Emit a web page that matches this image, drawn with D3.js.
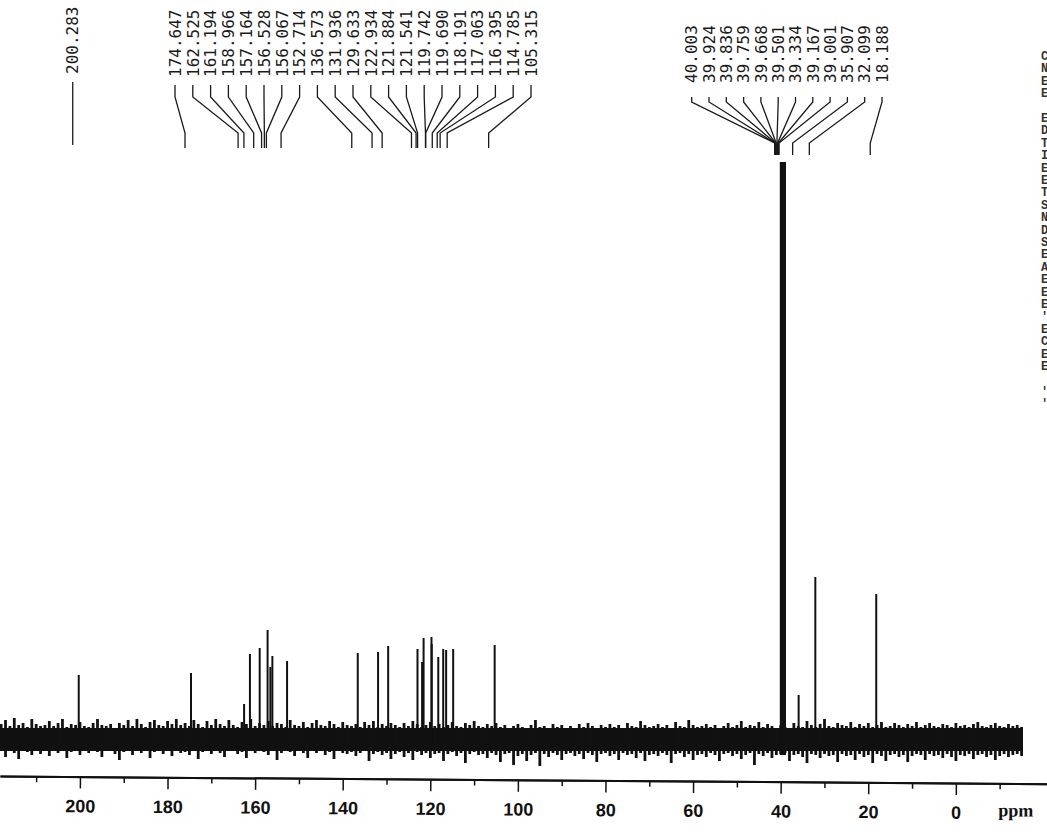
<!DOCTYPE html>
<html><head><meta charset="utf-8">
<script src="https://cdn.jsdelivr.net/npm/d3@7"></script>
<style>html,body{margin:0;padding:0;background:#fff;overflow:hidden}</style>
</head><body><svg id="c" width="1047" height="840"></svg>
<script>
// ---------------- data ----------------
const peakPpm = [200.283, 174.647, 162.525, 161.194, 158.966, 157.164, 156.528, 156.067, 152.714,
  136.573, 131.936, 129.633, 122.934, 121.884, 121.541, 119.742, 119.690, 118.191, 117.063,
  116.395, 114.785, 105.315, 35.907, 32.099, 18.188];
const peakHeight = [64, 66, 35, 85, 91, 109, 72, 83, 78,
  86, 87, 93, 90, 77, 101, 102, 95, 82, 90,
  89, 90, 94, 44, 162, 145];
const solventPpm = [40.003, 39.924, 39.836, 39.759, 39.668, 39.501, 39.334, 39.167, 39.001];
const solventHeight = [577, 577, 577, 577, 577, 577, 577, 577, 577];

const labelsCarbonyl = ["200.283"];
const labelsAromatic = ["174.647","162.525","161.194","158.966","157.164","156.528","156.067","152.714",
  "136.573","131.936","129.633","122.934","121.884","121.541","119.742","119.690","118.191",
  "117.063","116.395","114.785","105.315"];
const labelsAliphatic = ["40.003","39.924","39.836","39.759","39.668","39.501","39.334","39.167",
  "39.001","35.907","32.099","18.188"];

const majorTicks = [200, 180, 160, 140, 120, 100, 80, 60, 40, 20, 0];
const minorTicks = [210, 190, 170, 150, 130, 110, 90, 70, 50, 30, 10, -10];
const axisUnit = "ppm";

// baseline noise envelope, read every 1 ppm from 218 ppm down to -15 ppm
const noiseStartPpm = 218;
const noiseStepPpm = 1;
const noiseHigh = [
  15,19,13,21,14,16,12,20,15,13, 14,18,13,16,20,12,15,14,17,13,
  12,16,20,14,13,15,11,16,14,19, 13,20,15,12,17,19,14,13,18,15,
  20,14,16,13,19,15,12,18,14,20, 15,13,19,14,12,17,15,20,13,16,
  14,18,13,16,15,12,19,14,13,17, 12,16,19,14,13,18,15,12,17,14,
  13,15,12,17,14,18,12,15,13,16, 14,12,16,13,18,15,12,14,17,13,
  15,12,14,17,13,12,16,14,18,13, 12,15,13,16,12,14,11,13,15,12,
  11,14,19,12,13,11,15,12,14,11, 13,11,15,12,16,13,11,14,12,15,
  12,14,11,16,13,12,18,14,12,13, 15,12,14,11,17,13,12,19,14,12,
  13,15,12,14,11,13,16,12,14,18, 12,14,13,17,12,15,13,11,14,12,
  10,16,13,12,18,14,12,15,20,13, 12,16,14,13,17,12,15,13,16,12,
  14,17,12,13,16,14,12,15,13,17, 12,14,16,13,12,15,14,12,16,13,
  14,12,15,17,13,12,14,16,13,12, 15,13,14,12];
const noiseLow = [
  -12,-18,-10,-14,-20,-11,-13,-16,-10,-15, -12,-17,-11,-14,-10,-19,-13,-12,-16,-11,
  -14,-10,-13,-18,-12,-11,-15,-21,-13,-12, -16,-11,-14,-12,-19,-13,-11,-15,-12,-17,
  -11,-14,-13,-16,-12,-20,-13,-11,-15,-12, -14,-18,-12,-11,-15,-13,-19,-12,-14,-11,
  -13,-16,-12,-21,-14,-11,-13,-17,-12,-14, -19,-12,-14,-11,-16,-13,-20,-12,-14,-15,
  -13,-17,-14,-12,-22,-15,-13,-16,-14,-20, -15,-13,-18,-14,-21,-13,-16,-14,-19,-15,
  -14,-22,-15,-13,-17,-14,-24,-15,-13,-16, -15,-19,-14,-16,-23,-15,-14,-26,-17,-15,
  -22,-16,-14,-27,-15,-18,-14,-16,-21,-15, -14,-17,-15,-20,-14,-16,-23,-15,-14,-17,
  -15,-21,-14,-16,-15,-19,-14,-22,-16,-15, -17,-14,-16,-24,-15,-14,-18,-15,-21,-16,
  -15,-18,-14,-16,-22,-15,-14,-17,-15,-20, -16,-14,-26,-15,-17,-14,-19,-16,-15,-14,
  -22,-16,-15,-18,-24,-15,-16,-19,-15,-17, -16,-23,-15,-17,-16,-21,-15,-18,-16,-24,
  -15,-17,-22,-16,-15,-18,-16,-23,-17,-15, -16,-21,-15,-17,-16,-19,-15,-18,-22,-16,
  -17,-15,-20,-16,-15,-18,-16,-21,-17,-15, -18,-16,-15,-17];
// solid core of the noise band (upper / lower)
const noiseCore = [11, -12];

const sideLetters = ["C","N","E","E","","E","D","T","I","E","E","T","S","N","D","S","E","A","E","E","E","'","E","C","E","E","","'","'"];

// ---------------- drawing ----------------
const W = 1047, H = 840;
const svg = d3.select("#c");
svg.append("rect").attr("width", W).attr("height", H).attr("fill", "#fff");

const x = d3.scaleLinear().domain([218.26, -20.8]).range([0, W]);
const y = d3.scaleLinear().domain([0, 580]).range([739, 159]);

const noise = noiseHigh.map((h, i) => ({ p: noiseStartPpm - i * noiseStepPpm, hi: h, lo: noiseLow[i] }));
const spec = svg.append("g");
const xFirst = x(noise[0].p), xLast = x(noise[noise.length - 1].p);
// solid core
spec.append("rect")
  .attr("x", 0).attr("width", xLast + 1)
  .attr("y", y(noiseCore[0])).attr("height", y(noiseCore[1]) - y(noiseCore[0]))
  .attr("fill", "#111");
// spiky envelope: one spike per sample
spec.selectAll("line.nz").data(noise).join("line")
  .attr("class", "nz")
  .attr("x1", d => x(d.p)).attr("x2", d => x(d.p))
  .attr("y1", d => y(d.lo)).attr("y2", d => y(d.hi))
  .attr("stroke", "#111").attr("stroke-width", 2.8);

// peaks
spec.selectAll("line.pk").data(peakPpm.map((p, i) => [p, peakHeight[i]])).join("line")
  .attr("class", "pk")
  .attr("x1", d => x(d[0])).attr("x2", d => x(d[0]))
  .attr("y1", y(-6)).attr("y2", d => y(d[1]))
  .attr("stroke", "#111").attr("stroke-width", 2);
spec.selectAll("line.sv").data(solventPpm.map((p, i) => [p, solventHeight[i]])).join("line")
  .attr("class", "sv")
  .attr("x1", d => x(d[0])).attr("x2", d => x(d[0]))
  .attr("y1", y(-16)).attr("y2", d => y(d[1]))
  .attr("stroke", "#111").attr("stroke-width", 1.8);

// peak labels with leader lines
const leaderShift = -6;
const groups = [
  { labels: labelsCarbonyl, firstX: null, step: 0, textY: 74, ly: [82, 82, 145, 145] },
  { labels: labelsAromatic, firstX: 175, step: 17.8, textY: 77, ly: [85, 97, 133, 148] },
  { labels: labelsAliphatic, firstX: 691.7, step: 17.3, textY: 83, ly: [97, 102, 143, 155] }
];
const lab = svg.append("g");
groups.forEach(g => {
  g.labels.forEach((t, i) => {
    const endX = x(+t) + leaderShift;
    const lx = g.firstX === null ? endX : g.firstX + i * g.step;
    lab.append("path")
      .attr("d", `M${lx},${g.ly[0]}L${lx},${g.ly[1]}L${endX},${g.ly[2]}L${endX},${g.ly[3]}`)
      .attr("fill", "none").attr("stroke", "#1a1a1a").attr("stroke-width", 1.3);
    lab.append("text")
      .attr("transform", `translate(${lx},${g.textY}) rotate(-90)`)
      .attr("dy", "0.36em")
      .attr("font-family", "DejaVu Sans Mono, monospace")
      .attr("font-size", 16)
      .attr("fill", "#1a1a1a")
      .text(t);
  });
});

// axis
const axG = svg.append("g").attr("transform", "translate(0,776) rotate(0.42)");
axG.append("g").call(d3.axisBottom(x).tickValues(minorTicks).tickSize(6).tickSizeOuter(0).tickFormat(""));
const majorAx = axG.append("g").call(d3.axisBottom(x).tickValues(majorTicks).tickSize(12).tickSizeOuter(0).tickPadding(11).tickFormat(d3.format("d")));
axG.selectAll(".domain").attr("stroke", "#111").attr("stroke-width", 2);
axG.selectAll(".tick line").attr("stroke", "#111").attr("stroke-width", 1.5);
majorAx.selectAll("text")
  .attr("font-family", "Liberation Sans Narrow, Liberation Sans, Arial, sans-serif")
  .attr("font-weight", "bold").attr("font-size", 18).attr("fill", "#111");
axG.append("text").attr("x", 1016).attr("y", 33).attr("text-anchor", "middle")
  .attr("font-family", "Liberation Serif, serif").attr("font-weight", "bold")
  .attr("font-size", 18).attr("fill", "#111").text(axisUnit);

// cut-off parameter column at the right edge
svg.append("g").selectAll("text").data(sideLetters).join("text")
  .attr("x", 1041).attr("y", (d, i) => 60 + i * 12.4)
  .attr("font-family", "Liberation Mono, monospace").attr("font-weight", "bold")
  .attr("font-size", 12).attr("fill", "#333").text(d => d);
</script></body></html>
